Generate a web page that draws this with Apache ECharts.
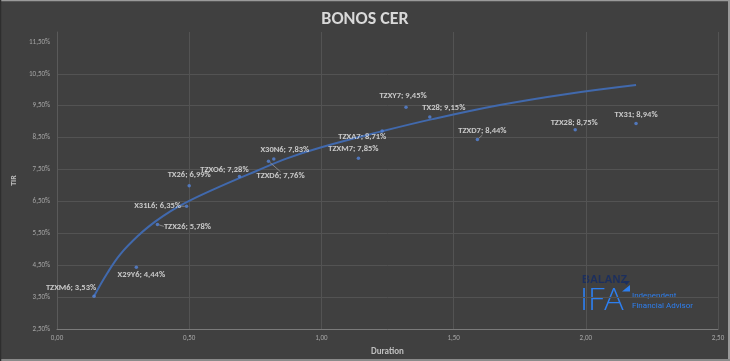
<!DOCTYPE html>
<html>
<head>
<meta charset="utf-8">
<script src="https://cdn.jsdelivr.net/npm/echarts@6/dist/echarts.min.js"></script>
<style>
html,body{margin:0;padding:0;background:#404040;}
#chart{width:730px;height:361px;}
</style>
</head>
<body>
<div id="chart"></div>
<script>
// ---- data ----
const bondNames = ['TZXM6','X29Y6','TZX26','X31L6','TX26','TZXO6','TZXD6','X30N6','TZXM7','TZXA7','TZXY7','TX28','TZXD7','TZX28','TX31'];
const durations = [0.14, 0.30, 0.38, 0.49, 0.50, 0.69, 0.80, 0.82, 1.14, 1.23, 1.32, 1.41, 1.59, 1.96, 2.19];
const tirValues = [3.53, 4.44, 5.78, 6.35, 6.99, 7.28, 7.76, 7.83, 7.85, 8.71, 9.45, 9.15, 8.44, 8.75, 8.94];
// trend line
const trendX = [0.14, 0.19, 0.24, 0.31, 0.37, 0.43, 0.50, 0.62, 0.75, 0.87, 1.00, 1.22, 1.42, 1.68, 1.93, 2.19];
const trendY = [3.53, 4.25, 4.85, 5.45, 5.86, 6.20, 6.52, 6.98, 7.44, 7.85, 8.20, 8.68, 9.08, 9.53, 9.87, 10.15];
const yTicks = [2.5, 3.5, 4.5, 5.5, 6.5, 7.5, 8.5, 9.5, 10.5, 11.5];

// ---- label placement (style) ----
const labelOffsets = [[-23,-8],[5,8],[30,2],[-29,0],[0,-11],[-15,-7],[12,15],[11,-9],[-5,-9],[-20,6],[-3,-11],[14,-9],[5,-9],[-1,-7],[0,-9]];
const leaderIdx = [2,3,6,12];

const fmt = v => v.toFixed(2).replace('.', ',');
const labelFont = 'Carlito, "Liberation Sans Narrow", "Roboto", sans-serif';

const scatterData = durations.map((d, i) => {
  const item = { name: bondNames[i], value: [d, tirValues[i]] };
  if (leaderIdx.indexOf(i) >= 0) item.labelLine = { show: true };
  return item;
});
const trendData = trendX.map((x, i) => [x, trendY[i]]);

const chart = echarts.init(document.getElementById('chart'), null, { renderer: 'canvas' });
chart.setOption({
  backgroundColor: '#404040',
  animation: false,
  title: {
    text: 'BONOS CER', left: 'center', top: 5,
    textStyle: { color: '#d9d9d9', fontSize: 18, fontWeight: 'bold', fontFamily: labelFont }
  },
  grid: { left: 57, right: 12, top: 32, bottom: 31, containLabel: false },
  xAxis: {
    type: 'value', min: 0, max: 2.5, interval: 0.5,
    name: 'Duration', nameLocation: 'middle', nameGap: 15,
    nameTextStyle: { color: '#bfbfbf', fontSize: 9, fontWeight: 'bold', fontFamily: labelFont },
    axisLine: { show: true, lineStyle: { color: '#7a7a7a', width: 1 } },
    axisTick: { show: false },
    axisLabel: { color: '#a6a6a6', fontSize: 7, margin: 6, fontFamily: labelFont, formatter: v => fmt(v) },
    splitLine: { show: true, lineStyle: { color: '#535353', width: 1 } }
  },
  yAxis: {
    type: 'value', min: 2.5, max: 11.81,
    name: 'TIR', nameLocation: 'middle', nameGap: 23, nameRotate: 90,
    nameTextStyle: { color: '#bfbfbf', fontSize: 8, fontWeight: 'bold', fontFamily: labelFont },
    axisLine: { show: true, lineStyle: { color: '#5a5a5a', width: 1 } },
    axisTick: { show: false, customValues: yTicks },
    axisLabel: { color: '#a6a6a6', fontSize: 7, margin: 7, fontFamily: labelFont, customValues: yTicks, formatter: v => fmt(v) + '%' },
    splitLine: { show: true, showMaxLine: false, lineStyle: { color: '#535353', width: 1 } }
  },
  series: [
    {
      type: 'line', data: trendData, smooth: 0.4, showSymbol: false, symbol: 'none',
      lineStyle: { color: '#4169ad', width: 2 }, z: 2, silent: true
    },
    {
      type: 'scatter', data: scatterData, symbol: 'circle', symbolSize: 3.5,
      itemStyle: { color: '#5585da' }, z: 3,
      label: {
        show: true, position: 'inside', align: 'center', verticalAlign: 'middle',
        color: '#e8e8e8', fontSize: 8.5, fontWeight: 'bold', fontFamily: labelFont,
        formatter: p => p.name + '; ' + fmt(p.value[1]) + '%'
      },
      labelLine: { show: false, lineStyle: { color: '#a0a0a0', width: 0.7 } },
      labelLayout: p => ({ dx: labelOffsets[p.dataIndex][0], dy: labelOffsets[p.dataIndex][1] })
    }
  ],
  graphic: [
    { type: 'line', shape: { x1: 0, y1: 0.5, x2: 730, y2: 0.5 }, style: { stroke: '#9a9a9a', lineWidth: 1.5 } },
    { type: 'line', shape: { x1: 729, y1: 0, x2: 729, y2: 361 }, style: { stroke: '#9a9a9a', lineWidth: 2 } },
    { type: 'line', shape: { x1: 0, y1: 360, x2: 730, y2: 360 }, style: { stroke: '#8a8a8a', lineWidth: 2 } },
    { type: 'line', shape: { x1: 0.5, y1: 0, x2: 0.5, y2: 361 }, style: { stroke: '#2e2e2e', lineWidth: 1.5 } },
    { type: 'text', left: 582, top: 274, style: { text: 'BALANZ', fill: '#1c2f5e', font: 'bold 11px "Liberation Sans", sans-serif' } },
    { type: 'polygon', shape: { points: [[623,281],[630,281],[626.5,285]] }, style: { fill: '#1c2f5e' } },
    { type: 'polygon', shape: { points: [[622,291.5],[630,285],[630,291.5]] }, style: { fill: '#2d7ff0' } },
    { type: 'text', left: 580, top: 284, style: { text: 'IFA', fill: '#2d7ff0', font: '300 31px Lato, sans-serif' } },
    { type: 'text', left: 632, top: 292, style: { text: 'Independent', fill: '#2d7ff0', font: '8px Roboto, sans-serif' } },
    { type: 'text', left: 632, top: 302, style: { text: 'Financial Advisor', fill: '#2d7ff0', font: '8px Roboto, sans-serif' } }
  ]
});
</script>
</body>
</html>
